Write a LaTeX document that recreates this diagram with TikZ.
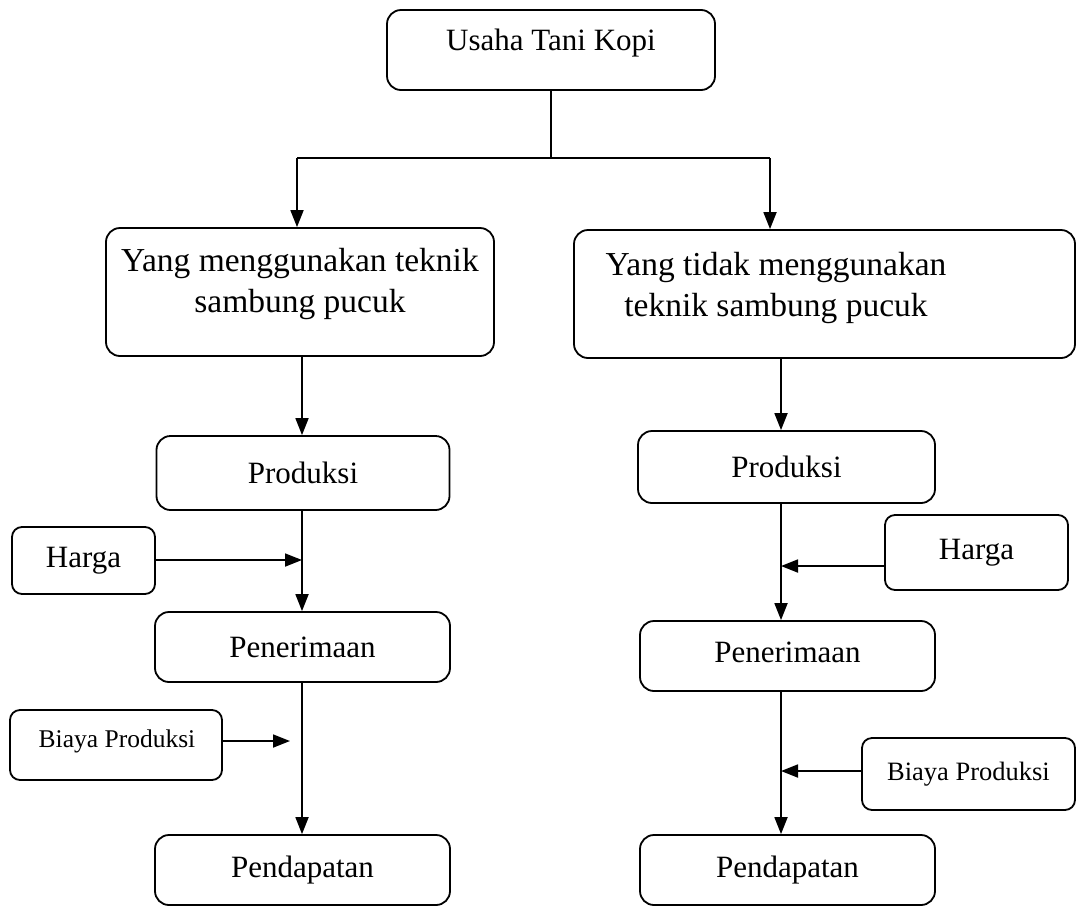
\documentclass[tikz,border=0pt]{standalone}
\usepackage{fontspec}
\setmainfont{Liberation Serif}
\usetikzlibrary{arrows.meta}
\begin{document}
\begin{tikzpicture}[x=1pt,y=-1pt,
  box/.style={draw, rounded corners=14pt, line width=1.8pt, inner sep=0pt, align=center,
    font=\fontsize{31}{42}\selectfont},
  sbox/.style={box, rounded corners=10pt},
  txt/.style={label={[yshift=#1, font=\fontsize{33.5}{41}\selectfont, align=center]center:}},
  arr/.style={line width=1.8pt, -{Triangle[length=17pt,width=13pt]}},
  ln/.style={line width=1.8pt}]
\useasboundingbox (0,0) rectangle (1081,911);
% top
\node[box, minimum width=328pt, minimum height=80pt] (top) at (551,50) {};
\node[font=\fontsize{31}{42}\selectfont] (toptxt) at (551,43) {Usaha Tani Kopi};
\node[box, minimum width=388pt, minimum height=128pt] (l1) at (300,292) {};
\node[font=\fontsize{33.5}{41}\selectfont, align=center] (l1txt) at (300,284) {Yang menggunakan teknik\\sambung pucuk};
\node[box, minimum width=501pt, minimum height=128pt] (r1) at (824.5,294) {};
\node[font=\fontsize{33.5}{41}\selectfont, align=center] (r1txt) at (776,288) {Yang tidak menggunakan\\teknik sambung pucuk};
\coordinate (jl) at (297,158);
\coordinate (jr) at (770,158);
\draw[ln] (top.south) -- (top.south |- jl);
\draw[ln] (jl) -- (jr);
\draw[arr] (jl) -- (jl |- l1.north);
\draw[arr] (jr) -- (jr |- r1.north);
% left column
\node[box, minimum width=293pt, minimum height=74pt] (lprod) at (303,473) {Produksi};
\node[sbox, minimum width=143pt, minimum height=67pt] (lharga) at (83.5,560.5) {Harga};
\node[box, minimum width=295pt, minimum height=70pt] (lpen) at (302.5,647) {Penerimaan};
\node[sbox, minimum width=212pt, minimum height=70pt] (lbiaya) at (116,745) {};
\node[font=\fontsize{25.5}{30}\selectfont] (lbiayatxt) at (117,741) {Biaya Produksi};
\node[box, minimum width=295pt, minimum height=70pt] (lpend) at (302.5,870) {Pendapatan};
\coordinate (lx) at (302,0);
\draw[arr] (l1.south -| lx) -- (lx |- lprod.north);
\draw[arr] (lx |- lprod.south) -- (lx |- lpen.north);
\draw[arr] (lx |- lpen.south) -- (lx |- lpend.north);
\coordinate (lh) at (0,560);
\draw[arr] (lharga.east |- lh) -- (lx |- lh);
\coordinate (lb) at (290,741);
\draw[arr] (lbiaya.east |- lb) -- (lb);
% right column
\node[box, minimum width=297pt, minimum height=72pt] (rprod) at (786.5,467) {Produksi};
\node[sbox, minimum width=183pt, minimum height=75pt] (rharga) at (976.5,552.5) {Harga};
\node[box, minimum width=295pt, minimum height=70pt] (rpen) at (787.5,656) {};
\node[font=\fontsize{31}{42}\selectfont] (rpentxt) at (787.5,652) {Penerimaan};
\node[sbox, minimum width=213pt, minimum height=72pt, font=\fontsize{26.5}{30}\selectfont] (rbiaya) at (968.5,774) {Biaya Produksi};
\node[box, minimum width=295pt, minimum height=70pt] (rpend) at (787.5,870) {Pendapatan};
\coordinate (rx) at (781,0);
\draw[arr] (rx |- r1.south) -- (rx |- rprod.north);
\draw[arr] (rx |- rprod.south) -- (rx |- rpen.north);
\draw[arr] (rx |- rpen.south) -- (rx |- rpend.north);
\coordinate (rh) at (0,566);
\draw[arr] (rharga.west |- rh) -- (rx |- rh);
\coordinate (rb) at (0,771);
\draw[arr] (rbiaya.west |- rb) -- (rx |- rb);
\end{tikzpicture}
\end{document}
